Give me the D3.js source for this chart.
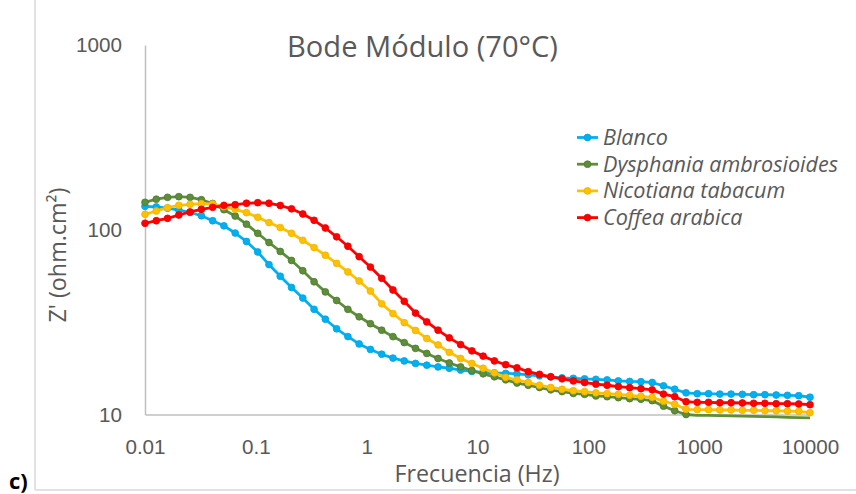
<!DOCTYPE html>
<html>
<head>
<meta charset="utf-8">
<script src="https://cdn.jsdelivr.net/npm/d3@7"></script>
<style>
  html, body { margin: 0; padding: 0; background: #fff; }
  svg { display: block; font-family: "Open Sans", "Liberation Sans", sans-serif; }
</style>
</head>
<body>
<svg id="chart" width="856" height="494"></svg>
<script>
// Measured frequencies (Hz), 60 points log-spaced from 10 mHz to 10 kHz
const frequencies = [
  0.01, 0.01264, 0.01597, 0.02019, 0.02551, 0.03225, 0.04076, 0.05151, 0.06511, 0.08229,
  0.1040, 0.1314, 0.1661, 0.2099, 0.2653, 0.3353, 0.4238, 0.5356, 0.6769, 0.8555,
  1.081, 1.367, 1.727, 2.183, 2.759, 3.487, 4.407, 5.569, 7.039, 8.896,
  11.24, 14.21, 17.96, 22.70, 28.69, 36.26, 45.82, 57.91, 73.19, 92.50,
  116.9, 147.7, 186.7, 236.0, 298.2, 376.9, 476.4, 602.0, 760.9, 961.6,
  1215, 1536, 1941, 2453, 3101, 3919, 4953, 6260, 7911, 10000
];

// |Z| (ohm.cm²) for each sample
const blanco = [
  133.9, 132.8, 130.9, 127.9, 124.0, 119.1, 111.9, 105.0, 96.0, 86.4,
  75.8, 64.8, 56.0, 48.7, 42.7, 37.1, 32.8, 29.1, 26.4, 24.1,
  22.5, 21.2, 20.2, 19.5, 18.9, 18.5, 18.1, 17.8, 17.4, 17.1,
  16.9, 16.8, 16.7, 16.6, 16.4, 16.2, 16.0, 15.8, 15.7, 15.6,
  15.5, 15.4, 15.2, 15.1, 15.05, 14.9, 14.3, 13.7, 13.1, 12.96,
  12.96, 12.9, 12.9, 12.86, 12.8, 12.8, 12.75, 12.7, 12.64, 12.4
];
const dysphania = [
  140.8, 146.3, 149.8, 151.0, 149.8, 145.4, 138.7, 128.4, 118.7, 107.2,
  95.7, 85.3, 76.3, 68.2, 60.0, 52.3, 46.1, 41.4, 37.1, 33.8,
  31.0, 28.6, 26.4, 24.5, 22.8, 21.4, 20.1, 19.0, 18.1, 17.3,
  16.6, 16.0, 15.4, 14.8, 14.4, 14.0, 13.6, 13.3, 13.0, 12.86,
  12.6, 12.48, 12.33, 12.18, 12.09, 11.88, 11.1, 10.48, 10.0, 9.9,
  9.88, 9.85, 9.83, 9.8, 9.77, 9.74, 9.7, 9.66, 9.62, 9.58
];
const nicotiana = [
  121.2, 126.3, 131.7, 135.6, 137.3, 138.4, 137.9, 133.3, 129.0, 123.7,
  116.8, 109.4, 102.8, 95.7, 87.7, 80.1, 72.8, 65.8, 59.1, 52.8,
  46.6, 39.7, 35.2, 31.4, 28.5, 25.8, 23.8, 21.7, 20.1, 18.9,
  17.8, 16.8, 15.9, 15.4, 14.9, 14.4, 14.0, 13.7, 13.45, 13.3,
  13.1, 12.96, 12.86, 12.7, 12.55, 12.39, 11.8, 11.36, 10.67, 10.62,
  10.62, 10.58, 10.58, 10.54, 10.54, 10.48, 10.48, 10.44, 10.4, 10.23
];
const coffea = [
  108.4, 111.9, 115.3, 120.2, 124.8, 129.0, 132.3, 135.6, 136.6, 139.1,
  140.1, 139.1, 135.3, 129.8, 121.7, 112.5, 102.2, 91.6, 81.4, 71.5,
  62.8, 54.6, 47.2, 41.0, 35.4, 31.7, 28.6, 26.0, 23.9, 22.1,
  20.7, 19.5, 18.6, 17.9, 17.05, 16.5, 16.0, 15.6, 15.2, 14.9,
  14.6, 14.4, 14.15, 13.97, 13.8, 13.6, 12.9, 12.48, 11.73, 11.64,
  11.64, 11.58, 11.58, 11.54, 11.5, 11.5, 11.44, 11.44, 11.4, 11.3
];

const seriesNames = ["Blanco", "Dysphania ambrosioides", "Nicotiana tabacum", "Coffea arabica"];
const seriesValues = [blanco, dysphania, nicotiana, coffea];
const seriesColors = ["#00B0F0", "#5E8E3A", "#FFC000", "#FF0000"];
const markerStrokes = ["#00A3DE", "#4D7A2D", "#F0B400", "#EE0000"];

const xTicks = [0.01, 0.1, 1, 10, 100, 1000, 10000];
const xTickLabels = ["0.01", "0.1", "1", "10", "100", "1000", "10000"];
const yTicks = [10, 100, 1000];
const yTickLabels = ["10", "100", "1000"];

const chartTitle = "Bode Módulo (70°C)";
const xTitle = "Frecuencia (Hz)";
const yTitle = "Z' (ohm.cm²)";
const panelLabel = "c)";

const svg = d3.select("#chart");
const textColor = "#595959";
const axisColor = "#BFBFBF";

// scale a text's font size so its rendered width equals the target width
function fitWidth(sel, target) {
  const w = sel.node().getComputedTextLength();
  const fs = parseFloat(sel.attr("font-size"));
  sel.attr("font-size", (fs * target / w).toFixed(2));
}

// outer chart frame
svg.append("line").attr("x1", 35).attr("x2", 35).attr("y1", 0).attr("y2", 490)
  .attr("stroke", "#D9D9D9").attr("stroke-width", 1.5);
svg.append("line").attr("x1", 35).attr("x2", 856).attr("y1", 490).attr("y2", 490)
  .attr("stroke", "#D9D9D9").attr("stroke-width", 1.5);

const x = d3.scaleLog().domain([0.01, 10000]).range([145, 810]);
const y = d3.scaleLog().domain([10, 1000]).range([414.5, 45]);

// measure tick label size from the widest label
const probe = svg.append("text").attr("font-size", 20).text("10000");
fitWidth(probe, 59);
const tickFont = +probe.attr("font-size");
probe.remove();

// x axis
const xAxis = svg.append("g").attr("transform", `translate(0,${y(10)})`)
  .call(d3.axisBottom(x).tickValues(xTicks).tickSize(0).tickSizeOuter(0)
    .tickFormat((d, i) => xTickLabels[i]));
xAxis.select(".domain").attr("stroke", axisColor).attr("stroke-width", 1.5);
xAxis.selectAll("text").attr("y", 32).attr("dy", "0.35em")
  .attr("fill", textColor).attr("font-size", tickFont).attr("font-family", null);

// y axis
const yAxis = svg.append("g").attr("transform", `translate(${x(0.01)},0)`)
  .call(d3.axisLeft(y).tickValues(yTicks).tickSize(0).tickSizeOuter(0).tickPadding(23)
    .tickFormat((d, i) => yTickLabels[i]));
yAxis.select(".domain").attr("stroke", axisColor).attr("stroke-width", 1.5);
yAxis.selectAll("text").attr("fill", textColor).attr("font-size", tickFont).attr("font-family", null);

// plot clip (line of values just under the axis floor stays visible)
svg.append("clipPath").attr("id", "plotClip")
  .append("rect").attr("x", 138).attr("y", 38).attr("width", 690).attr("height", 382);

const line = d3.line().x((d, i) => x(frequencies[i])).y(d => y(d));
const plot = svg.append("g").attr("clip-path", "url(#plotClip)");

seriesValues.forEach((vals, s) => {
  const g = plot.append("g");
  g.append("path").datum(vals).attr("d", line)
    .attr("fill", "none").attr("stroke", seriesColors[s]).attr("stroke-width", 2.8)
    .attr("stroke-linejoin", "round");
  g.selectAll("circle").data(vals.map((v, i) => ({ v, f: frequencies[i] })).filter(d => d.v >= 9.99))
    .join("circle")
    .attr("cx", d => x(d.f)).attr("cy", d => y(d.v)).attr("r", 3.4)
    .attr("fill", seriesColors[s]).attr("stroke", markerStrokes[s]).attr("stroke-width", 0.8);
});

// title
const title = svg.append("text").attr("x", 422.5).attr("y", 56.5).attr("text-anchor", "middle")
  .attr("fill", textColor).attr("font-size", 32).text(chartTitle);
fitWidth(title, 271);

// axis titles
const xt = svg.append("text").attr("x", 477).attr("y", 481.5).attr("text-anchor", "middle")
  .attr("fill", textColor).attr("font-size", 20).text(xTitle);
fitWidth(xt, 165);
const yt = svg.append("text").attr("transform", "translate(66,255) rotate(-90)")
  .attr("text-anchor", "middle").attr("fill", textColor).attr("font-size", 20).text(yTitle);
fitWidth(yt, 135);

// panel label
svg.append("text").attr("x", 9).attr("y", 489).attr("font-weight", "bold")
  .attr("font-size", 22).attr("fill", "#000").text(panelLabel);

// legend
const legend = svg.append("g");
const rowY = [137.5, 164.2, 190.9, 217.6];
seriesNames.forEach((name, s) => {
  const row = legend.append("g").attr("transform", `translate(0,${rowY[s]})`);
  row.append("line").attr("x1", 577).attr("x2", 598).attr("y1", 0).attr("y2", 0)
    .attr("stroke", seriesColors[s]).attr("stroke-width", 2.8);
  row.append("circle").attr("cx", 587.5).attr("cy", 0).attr("r", 3.4)
    .attr("fill", seriesColors[s]).attr("stroke", markerStrokes[s]).attr("stroke-width", 0.8);
  row.append("text").attr("class", "lg").attr("x", 603).attr("dy", "0.35em")
    .attr("font-style", "italic").attr("fill", textColor).attr("font-size", 20).text(name);
});
const lgLong = legend.selectAll("text.lg").filter((d, i) => i === 1);
fitWidth(lgLong, 235);
legend.selectAll("text.lg").attr("font-size", lgLong.attr("font-size"));
</script>
</body>
</html>
